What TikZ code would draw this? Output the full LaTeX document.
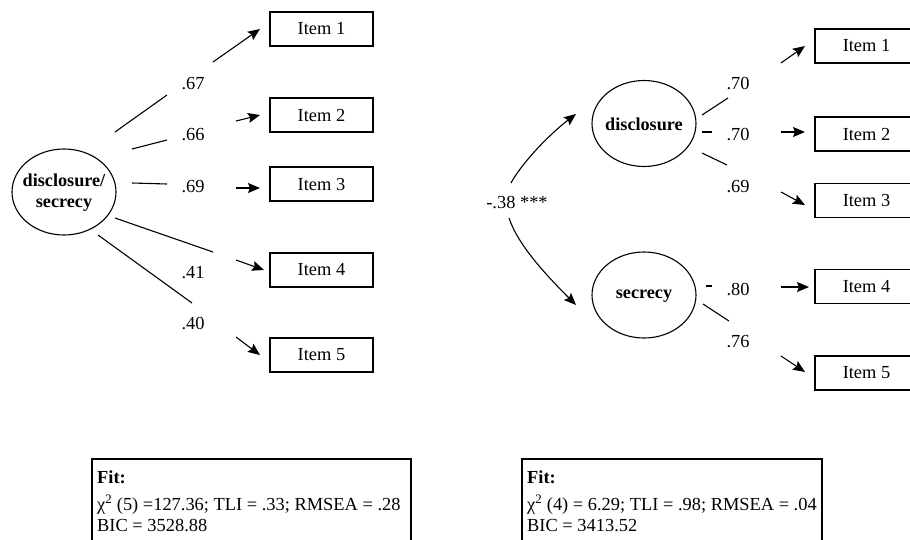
\documentclass[tikz,border=0pt]{standalone}
\usepackage{fontspec}
\setmainfont{Liberation Serif}
\usetikzlibrary{arrows.meta,shapes.geometric}
\begin{document}
\begin{tikzpicture}[x=1pt,y=-1pt,
  every node/.style={font=\fontsize{18.4}{21}\selectfont},
  itembox/.style={draw, line width=1.1pt, rectangle, minimum width=103pt, minimum height=34pt, inner sep=0pt},
  latent/.style={draw, line width=1.1pt, ellipse, minimum width=104pt, minimum height=86pt, inner sep=0pt},
  lattext/.style={font=\fontsize{18.2}{21}\selectfont\bfseries, align=center, inner sep=0pt},
  coef/.style={inner sep=0pt},
  seg/.style={line width=1.1pt},
  arr/.style={line width=1.1pt, -{Stealth[length=12pt,width=10pt,inset=2pt]}},
  fittext/.style={anchor=base west, inner sep=0pt}
]
\useasboundingbox (0,0) rectangle (910,539);
\clip (0,0) rectangle (910,539);

% ---------- Left model ----------
\node[latent] (L) at (64,192) {};
\node[lattext] (Ltxt) at (64,193) {disclosure/\\secrecy};

\node[itembox] (L1) at (321.5,29) {Item 1};
\node[itembox] (L2) at (321.5,115) {Item 2};
\node[itembox] (L3) at (321.5,184) {Item 3};
\node[itembox] (L4) at (321.5,270) {Item 4};
\node[itembox] (L5) at (321.5,355) {Item 5};

\node[coef] (lc1) at (193,84) {.67};
\node[coef] (lc2) at (193,135) {.66};
\node[coef] (lc3) at (193,187) {.69};
\node[coef] (lc4) at (193,273) {.41};
\node[coef] (lc5) at (193,324) {.40};

\coordinate (la1) at (115,132); \coordinate (lb1) at (167,95);
\coordinate (lp1) at (213,62);  \coordinate (lq1) at (260,29);
\coordinate (la2) at (132,149); \coordinate (lb2) at (167,140);
\coordinate (lp2) at (236,121); \coordinate (lq2) at (260,115);
\coordinate (la3) at (132,183); \coordinate (lb3) at (167,184);
\coordinate (lp3) at (236,188); \coordinate (lq3) at (260,188);
\coordinate (la4) at (115,218); \coordinate (lb4) at (213,252);
\coordinate (lp4) at (236,260); \coordinate (lq4) at (264,270);
\coordinate (la5) at (98,235);  \coordinate (lb5) at (192,303);
\coordinate (lp5) at (236,337); \coordinate (lq5) at (260,355);

\foreach \i in {1,...,5}{
  \draw[seg] (la\i) -- (lb\i);
  \draw[arr] (lp\i) -- (lq\i);
}

% ---------- Right model ----------
\node[latent] (D) at (644,123.5) {};
\node[lattext] (Dtxt) at (644,124) {disclosure};
\node[latent] (S) at (644,295) {};
\node[lattext] (Stxt) at (644,296) {secrecy};

\node[itembox] (R1) at (866.5,46) {Item 1};
\node[itembox] (R2) at (866.5,134) {Item 2};
\node[itembox] (R3) at (866.5,200.5) {Item 3};
\node[itembox] (R4) at (866.5,286.5) {Item 4};
\node[itembox] (R5) at (866.5,373) {Item 5};

\node[coef] (rc1) at (738,84) {.70};
\node[coef] (rc2) at (738,135) {.70};
\node[coef] (rc3) at (738,187) {.69};
\node[coef] (rc4) at (738,290) {.80};
\node[coef] (rc5) at (738,342) {.76};

\coordinate (ra1) at (702,115); \coordinate (rb1) at (728,98);
\coordinate (rp1) at (781,63);  \coordinate (rq1) at (805,46);
\coordinate (ra2) at (702,132); \coordinate (rb2) at (712,132);
\coordinate (rp2) at (781,132); \coordinate (rq2) at (805,132);
\coordinate (ra3) at (702,153); \coordinate (rb3) at (727,165);
\coordinate (rp3) at (781,192); \coordinate (rq3) at (805,205);
\coordinate (ra4) at (706,286); \coordinate (rb4) at (712,286);
\coordinate (rp4) at (781,287); \coordinate (rq4) at (809,287);
\coordinate (ra5) at (703,304); \coordinate (rb5) at (729,321);
\coordinate (rp5) at (781,356); \coordinate (rq5) at (805,372);

\foreach \i in {1,...,5}{
  \draw[seg] (ra\i) -- (rb\i);
  \draw[arr] (rp\i) -- (rq\i);
}

% covariance
\node[coef] (cov) at (517,203) {-.38 ***};
\coordinate (cu0) at (511,183); \coordinate (cu1) at (576,114);
\coordinate (cd0) at (509,218); \coordinate (cd1) at (576,305);
\draw[arr] (cu0) .. controls (520,166) and (546,137) .. (cu1);
\draw[arr] (cd0) .. controls (518,245) and (546,275) .. (cd1);

% ---------- Fit boxes ----------
\draw[line width=1.1pt] (92,459) rectangle (411,600);
\node[fittext] (f1a) at (97,483) {\bfseries Fit:};
\node[fittext] (f1b) at (97,510) {χ\textsuperscript{2} (5) =127.36; TLI = .33; RMSEA = .28};
\node[fittext] (f1c) at (97,531) {BIC = 3528.88};

\draw[line width=1.1pt] (522,459) rectangle (822,600);
\node[fittext] (f2a) at (527,483) {\bfseries Fit:};
\node[fittext] (f2b) at (527,510) {χ\textsuperscript{2} (4) = 6.29; TLI = .98; RMSEA = .04};
\node[fittext] (f2c) at (527,531) {BIC = 3413.52};
\end{tikzpicture}
\end{document}
